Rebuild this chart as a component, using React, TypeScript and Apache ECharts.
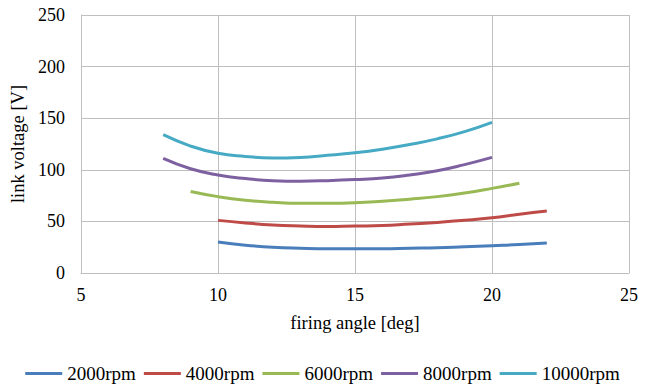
import React, { useEffect, useRef } from "react";
import * as echarts from "echarts";

const xTicks = [5, 10, 15, 20, 25];
const yTicks = [0, 50, 100, 150, 200, 250];

const x2000 = [10, 11, 12, 13, 14, 15, 16, 17, 18, 19, 20, 21, 22];
const y2000 = [30, 27, 25, 24, 23.5, 23.5, 23.5, 24, 24.5, 25.5, 26.5, 27.5, 29];

const x4000 = [10, 11, 12, 13, 14, 15, 16, 17, 18, 19, 20, 21, 22];
const y4000 = [51, 48.5, 46.5, 45.5, 45, 45.5, 46, 47.5, 49, 51, 53.5, 57, 60];

const x6000 = [9, 10, 11, 12, 13, 14, 15, 16, 17, 18, 19, 20, 21];
const y6000 = [79, 74, 70.5, 68.5, 67.5, 67.5, 68, 69.5, 71.5, 74, 77.5, 82, 87];

const x8000 = [8, 9, 10, 11, 12, 13, 14, 15, 16, 17, 18, 19, 20];
const y8000 = [111, 101, 95, 91.5, 89.5, 89, 89.5, 90.5, 92, 95, 99, 105, 112];

const x10000 = [8, 9, 10, 11, 12, 13, 14, 15, 16, 17, 18, 19, 20];
const y10000 = [134, 123, 116, 113, 111.5, 112, 114, 116.5, 120, 124.5, 130, 137, 146];

const seriesNames = ["2000rpm", "4000rpm", "6000rpm", "8000rpm", "10000rpm"];
const seriesX = [x2000, x4000, x6000, x8000, x10000];
const seriesY = [y2000, y4000, y6000, y8000, y10000];
const colors = ["#4A7EBB", "#BE4B48", "#98B954", "#7D60A0", "#46AAC5"];

const FONT = "Liberation Serif";

export default function App() {
  const ref = useRef<HTMLDivElement>(null);
  useEffect(() => {
    if (!ref.current) return;
    const chart = echarts.init(ref.current, undefined, { renderer: "svg" });
    chart.setOption({
      animation: false,
      textStyle: { fontFamily: FONT },
      grid: { left: 80, right: 16, top: 15, bottom: 112, containLabel: false },
      legend: {
        top: 359,
        left: "center",
        icon: "rect",
        itemWidth: 37,
        itemHeight: 3,
        itemGap: 8,
        textStyle: { fontFamily: FONT, fontSize: 19, color: "#000" },
        data: seriesNames,
      },
      xAxis: {
        type: "value",
        min: xTicks[0],
        max: xTicks[xTicks.length - 1],
        interval: 5,
        name: "firing angle [deg]",
        nameLocation: "middle",
        nameGap: 40,
        nameTextStyle: { fontFamily: FONT, fontSize: 18.5, color: "#000" },
        axisLine: { show: true, lineStyle: { color: "#BFBFBF", width: 1 } },
        axisTick: { show: false },
        axisLabel: { fontFamily: FONT, fontSize: 18, color: "#000", margin: 13 },
        splitLine: { show: true, lineStyle: { color: "#BFBFBF", width: 1 } },
      },
      yAxis: {
        type: "value",
        min: yTicks[0],
        max: yTicks[yTicks.length - 1],
        interval: 50,
        name: "link voltage [V]",
        nameLocation: "middle",
        nameGap: 54,
        nameRotate: 90,
        nameTextStyle: { fontFamily: FONT, fontSize: 18.5, color: "#000" },
        axisLine: { show: true, lineStyle: { color: "#BFBFBF", width: 1 } },
        axisTick: { show: false },
        axisLabel: { fontFamily: FONT, fontSize: 18, color: "#000", margin: 16 },
        splitLine: { show: true, lineStyle: { color: "#BFBFBF", width: 1 } },
      },
      series: seriesNames.map((name, i) => ({
        name,
        type: "line",
        smooth: true,
        symbol: "none",
        color: colors[i],
        lineStyle: { color: colors[i], width: 3 },
        data: seriesX[i].map((x, j) => [x, seriesY[i][j]]),
      })),
    });
    return () => chart.dispose();
  }, []);
  return <div ref={ref} style={{ width: 645, height: 385, position: "absolute", left: 0, top: 0 }} />;
}
